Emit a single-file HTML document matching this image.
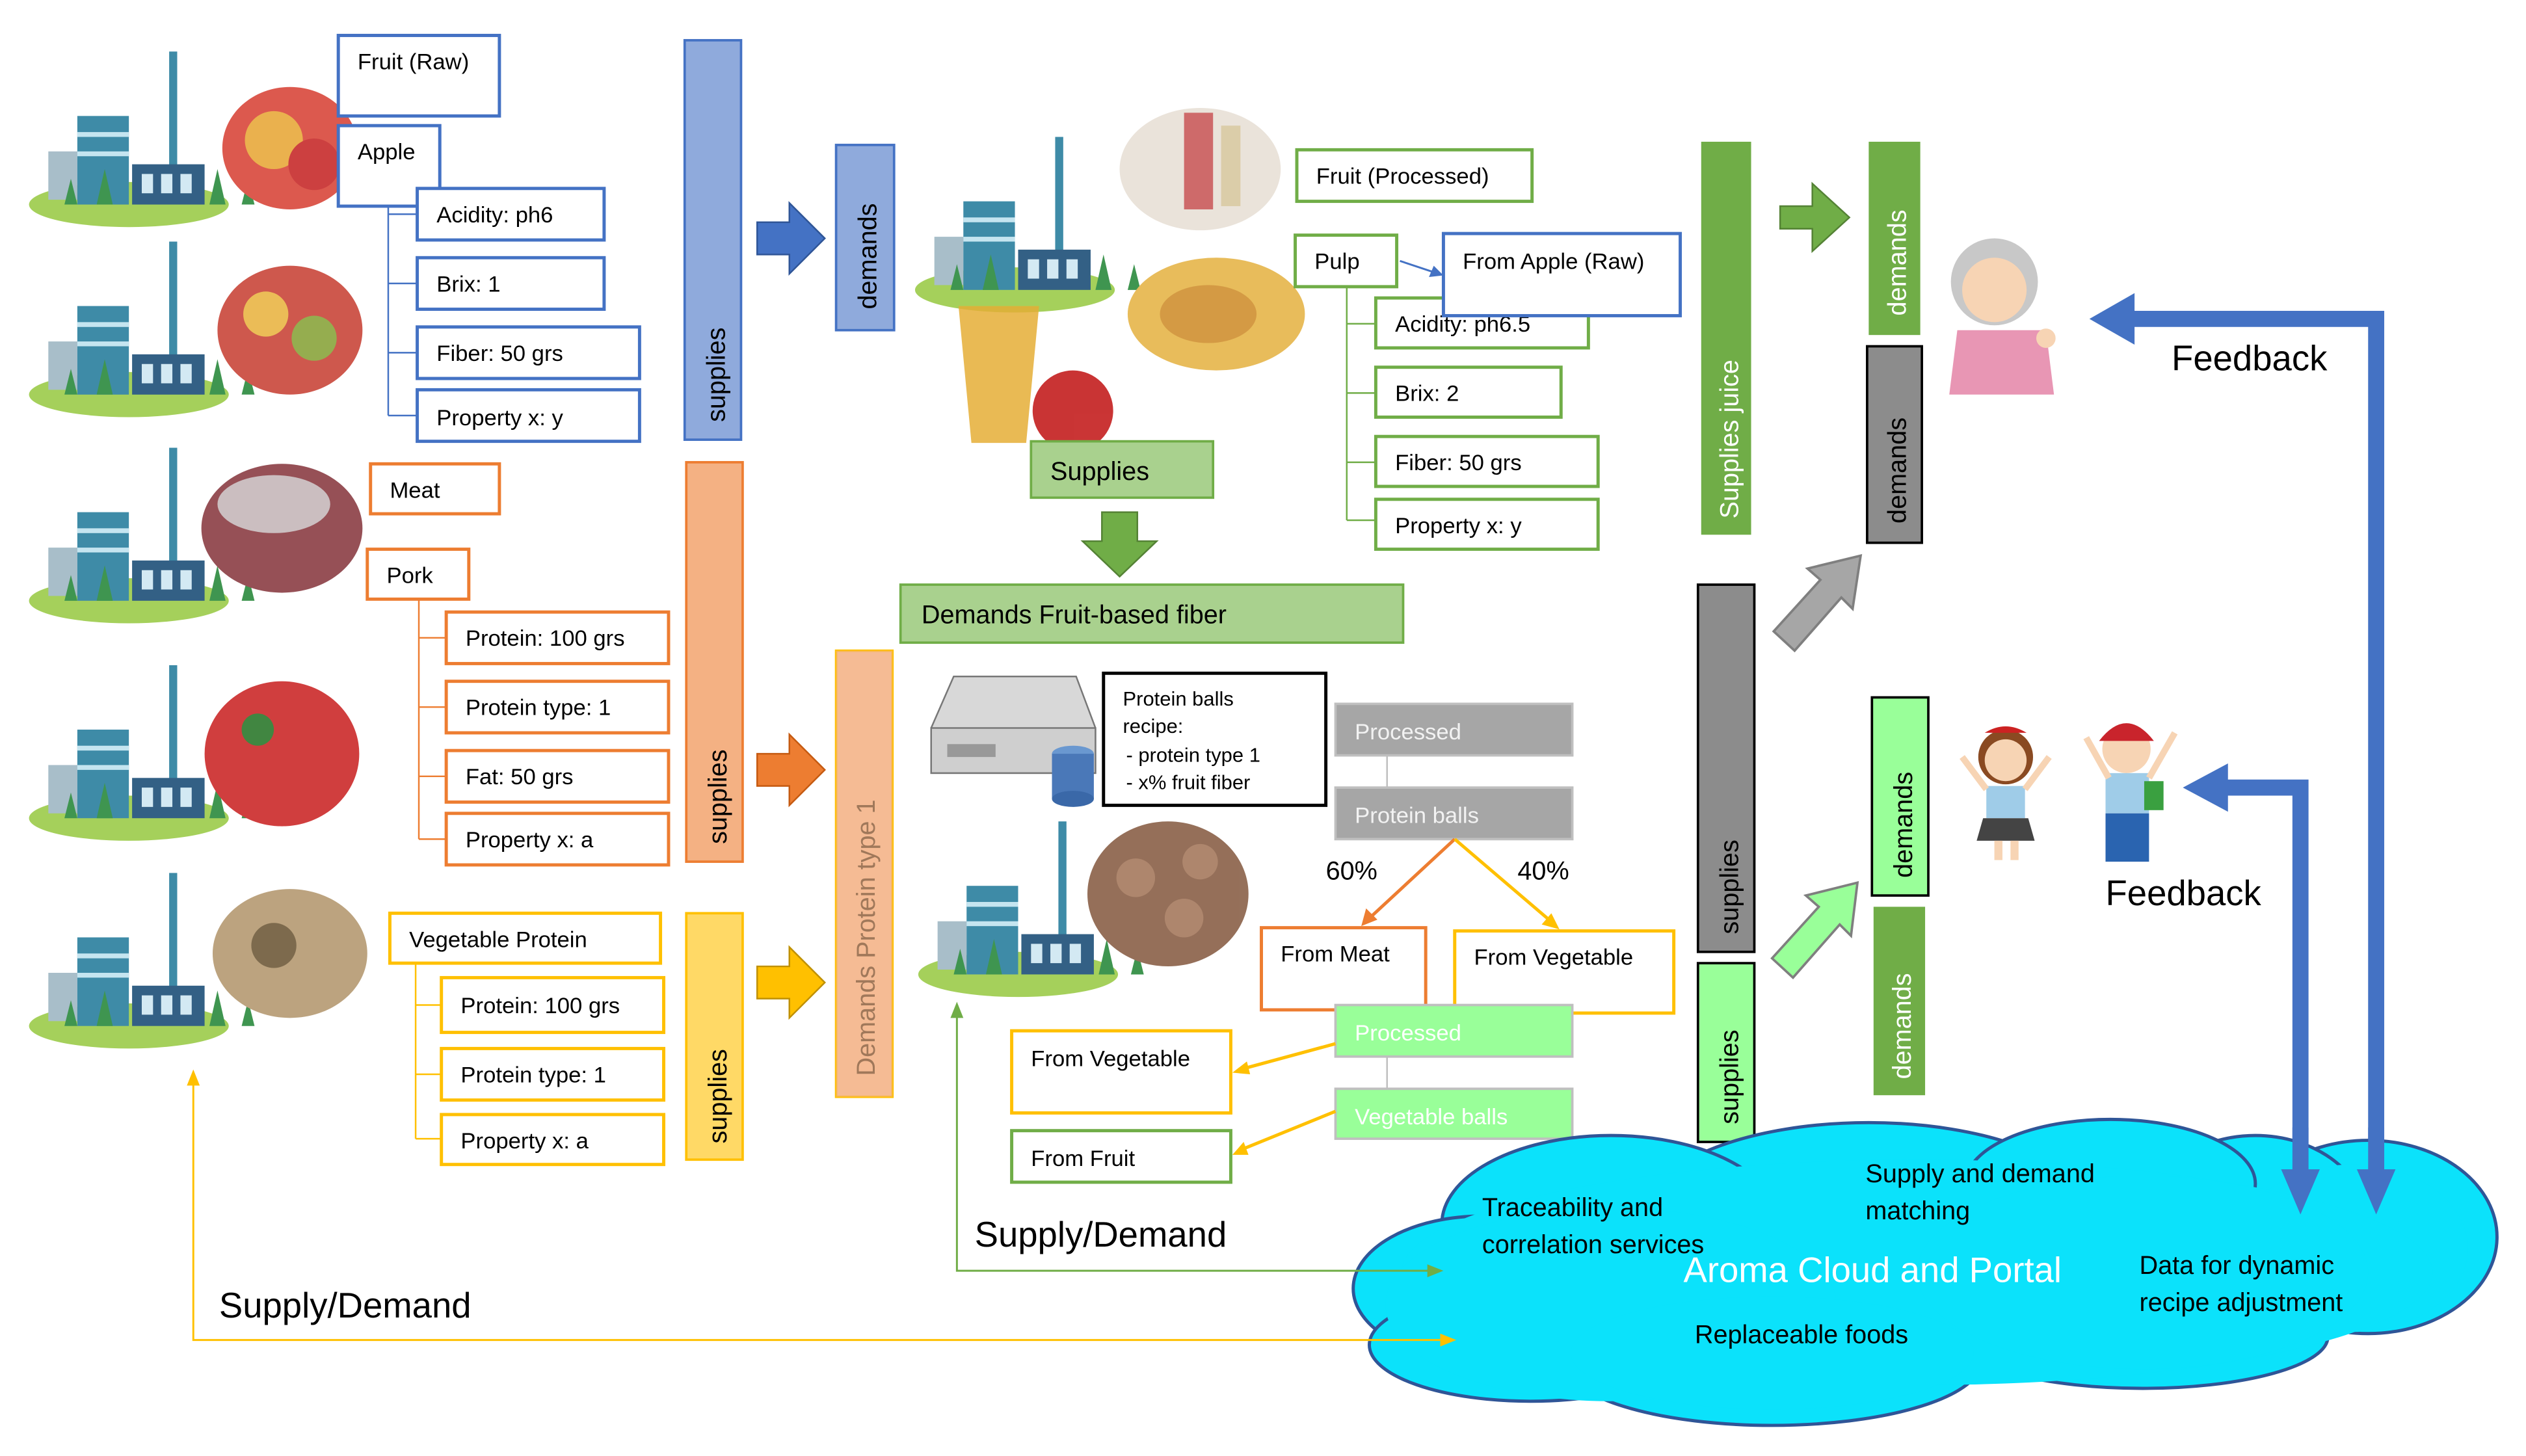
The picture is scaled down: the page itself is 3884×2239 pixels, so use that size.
<!DOCTYPE html>
<html><head><meta charset="utf-8"><style>
html,body{margin:0;padding:0;background:#fff}
svg{display:block}
text{font-family:"Liberation Sans",sans-serif}
</style></head><body>
<svg width="3884" height="2239" viewBox="0 0 1568 904" preserveAspectRatio="none" xmlns="http://www.w3.org/2000/svg">
<defs>
<g id="fac">
 <ellipse cx="60" cy="95" rx="62" ry="14" fill="#9ccc4a"/>
 <rect x="10" y="62" width="18" height="30" fill="#9fb8c4"/>
 <rect x="28" y="40" width="32" height="55" fill="#2a7f9e"/>
 <rect x="28" y="50" width="32" height="3" fill="#bfe3ef"/>
 <rect x="28" y="62" width="32" height="3" fill="#bfe3ef"/>
 <rect x="85" y="0" width="5" height="80" fill="#2a7f9e"/>
 <rect x="62" y="70" width="45" height="25" fill="#1d4f78"/>
 <rect x="68" y="76" width="7" height="12" fill="#cfe7f2"/><rect x="80" y="76" width="7" height="12" fill="#cfe7f2"/><rect x="92" y="76" width="7" height="12" fill="#cfe7f2"/>
 <path d="M40 95l5-22 5 22zM110 95l5-22 5 22zM20 95l4-16 4 16zM130 95l4-16 4 16z" fill="#2b8a3e"/>
</g>
</defs>
<rect width="1568" height="904" fill="#fff"/>

<!-- left factories -->
<g opacity="0.9">
<g transform="translate(20,32)"><use href="#fac"/><ellipse cx="160" cy="60" rx="42" ry="38" fill="#d9483b"/><circle cx="150" cy="55" r="18" fill="#e8a93b"/><circle cx="175" cy="70" r="16" fill="#c72c2c"/></g>
<g transform="translate(20,150)"><use href="#fac"/><ellipse cx="160" cy="55" rx="45" ry="40" fill="#c9473a"/><circle cx="145" cy="45" r="14" fill="#e9b545"/><circle cx="175" cy="60" r="14" fill="#8aa53d"/></g>
<g transform="translate(20,278)"><use href="#fac"/><ellipse cx="155" cy="50" rx="50" ry="40" fill="#8b3e44"/><ellipse cx="150" cy="35" rx="35" ry="18" fill="#c6b8ba"/></g>
<g transform="translate(20,413)"><use href="#fac"/><ellipse cx="155" cy="55" rx="48" ry="45" fill="#cc2a2a"/><circle cx="140" cy="40" r="10" fill="#2d7a2d"/></g>
<g transform="translate(20,542)"><use href="#fac"/><ellipse cx="160" cy="50" rx="48" ry="40" fill="#b59a72"/><circle cx="150" cy="45" r="14" fill="#6f5a3a"/></g>
</g>

<!-- Blue tree -->
<g fill="#fff" stroke="#4472C4" stroke-width="2">
<rect x="210" y="22" width="100" height="50"/>
<rect x="210" y="78" width="63" height="50"/>
<rect x="259" y="117" width="116" height="32"/>
<rect x="259" y="160" width="116" height="32"/>
<rect x="259" y="203" width="138" height="32"/>
<rect x="259" y="242" width="138" height="32"/>
</g>
<path d="M241 128V258M241 133H259M241 176H259M241 219H259M241 258H259" stroke="#4472C4" stroke-width="1" fill="none"/>
<g font-size="14" fill="#000">
<text x="222" y="43">Fruit (Raw)</text><text x="222" y="99">Apple</text>
<text x="271" y="138">Acidity: ph6</text><text x="271" y="181">Brix: 1</text>
<text x="271" y="224">Fiber: 50 grs</text><text x="271" y="264">Property x: y</text>
</g>

<!-- Orange tree -->
<g fill="#fff" stroke="#ED7D31" stroke-width="2">
<rect x="230" y="288" width="80" height="31"/>
<rect x="228" y="341" width="63" height="31"/>
<rect x="277" y="380" width="138" height="32"/>
<rect x="277" y="423" width="138" height="32"/>
<rect x="277" y="466" width="138" height="32"/>
<rect x="277" y="505" width="138" height="32"/>
</g>
<path d="M260 372V521M260 396H277M260 439H277M260 482H277M260 521H277" stroke="#ED7D31" stroke-width="1" fill="none"/>
<g font-size="14" fill="#000">
<text x="242" y="309">Meat</text><text x="240" y="362">Pork</text>
<text x="289" y="401">Protein: 100 grs</text><text x="289" y="444">Protein type: 1</text>
<text x="289" y="487">Fat: 50 grs</text><text x="289" y="526">Property x: a</text>
</g>

<!-- Yellow tree -->
<g fill="#fff" stroke="#FFC000" stroke-width="2">
<rect x="242" y="567" width="168" height="31"/>
<rect x="274" y="607" width="138" height="34"/>
<rect x="274" y="651" width="138" height="32"/>
<rect x="274" y="692" width="138" height="31"/>
</g>
<path d="M258 598V707M258 624H274M258 667H274M258 707H274" stroke="#FFC000" stroke-width="1" fill="none"/>
<g font-size="14" fill="#000">
<text x="254" y="588">Vegetable Protein</text><text x="286" y="629">Protein: 100 grs</text>
<text x="286" y="672">Protein type: 1</text><text x="286" y="713">Property x: a</text>
</g>

<!-- vertical bars left -->
<rect x="425" y="25" width="35" height="248" fill="#8FAADC" stroke="#4472C4" stroke-width="1.5"/>
<text transform="translate(450,262) rotate(-90)" font-size="16">supplies</text>
<rect x="519" y="90" width="36" height="115" fill="#8FAADC" stroke="#4472C4" stroke-width="1.5"/>
<text transform="translate(544,192) rotate(-90)" font-size="16">demands</text>
<path d="M470 138H490V126L512 148L490 170V158H470Z" fill="#4472C4" stroke="#2F5597"/>
<rect x="426" y="287" width="35" height="248" fill="#F4B183" stroke="#ED7D31" stroke-width="1.5"/>
<text transform="translate(451,524) rotate(-90)" font-size="16">supplies</text>
<path d="M470 468H490V456L512 478L490 500V488H470Z" fill="#ED7D31" stroke="#C55A11"/>
<rect x="519" y="404" width="35" height="277" fill="#F8CBAD" stroke="#FFC000" stroke-width="1.5"/>
<rect x="519" y="404" width="35" height="277" fill="#F4B183" opacity="0.6"/>
<text transform="translate(543,668) rotate(-90)" font-size="16" fill="#a0785a">Demands Protein type 1</text>
<rect x="426" y="567" width="35" height="153" fill="#FFD966" stroke="#FFC000" stroke-width="1.5"/>
<text transform="translate(451,710) rotate(-90)" font-size="16">supplies</text>
<path d="M470 600H490V588L512 610L490 632V620H470Z" fill="#FFC000" stroke="#BF9000"/>

<!-- middle top factory + products -->
<g opacity="0.9">
<g transform="translate(570,85)"><use href="#fac"/></g>
<ellipse cx="745" cy="105" rx="50" ry="38" fill="#e8e0d6"/>
<rect x="735" y="70" width="18" height="60" fill="#c95a5a"/><rect x="758" y="78" width="12" height="50" fill="#d8c8a0"/>
<ellipse cx="755" cy="195" rx="55" ry="35" fill="#e6b54a"/><ellipse cx="750" cy="195" rx="30" ry="18" fill="#d09030"/>
<path d="M595 190h50l-8 85h-34z" fill="#e2a420" opacity="0.85"/>
<circle cx="666" cy="255" r="25" fill="#c41f1f"/>
</g>
<rect x="640" y="274" width="113" height="35" fill="#A9D18E" stroke="#70AD47" stroke-width="1.5"/>
<text x="652" y="298" font-size="16">Supplies</text>
<path d="M684 318H706V336H718L695 358L672 336H684Z" fill="#70AD47" stroke="#548235"/>
<rect x="559" y="363" width="312" height="36" fill="#A9D18E" stroke="#70AD47" stroke-width="1.5"/>
<text x="572" y="387" font-size="16">Demands Fruit-based fiber</text>

<!-- processed fruit tree -->
<g fill="#fff" stroke="#70AD47" stroke-width="2">
<rect x="805" y="93" width="146" height="32"/>
<rect x="804" y="146" width="63" height="32"/>
<rect x="854" y="185" width="132" height="31"/>
<rect x="854" y="228" width="115" height="31"/>
<rect x="854" y="271" width="138" height="31"/>
<rect x="854" y="310" width="138" height="31"/>
</g>
<path d="M836 178V323M836 201H854M836 244H854M836 287H854M836 323H854" stroke="#70AD47" stroke-width="1" fill="none"/>
<g font-size="14" fill="#000">
<text x="817" y="114">Fruit (Processed)</text><text x="816" y="167">Pulp</text>
<text x="866" y="206">Acidity: ph6.5</text><text x="866" y="249">Brix: 2</text>
<text x="866" y="292">Fiber: 50 grs</text><text x="866" y="331">Property x: y</text>
</g>
<rect x="896" y="145" width="147" height="51" fill="#fff" stroke="#4472C4" stroke-width="2"/>
<text x="908" y="167" font-size="14">From Apple (Raw)</text>
<path d="M869 162L893 170" stroke="#4472C4" stroke-width="1.2"/><path d="M896 171l-9 1 3-7z" fill="#4472C4"/>

<!-- server -->
<path d="M592 420h76l12 32v28h-102v-28z" fill="#d8d8d8" stroke="#777"/>
<rect x="578" y="452" width="102" height="28" fill="#cfcfcf" stroke="#777"/>
<rect x="588" y="462" width="30" height="8" fill="#999"/>
<ellipse cx="666" cy="468" rx="13" ry="5" fill="#6a98d0"/><rect x="653" y="468" width="26" height="28" fill="#4a78b8"/><ellipse cx="666" cy="496" rx="13" ry="5" fill="#3a68a8"/>
<rect x="685" y="418" width="138" height="82" fill="#fff" stroke="#000" stroke-width="2"/>
<g font-size="12.5"><text x="697" y="438">Protein balls</text><text x="697" y="455">recipe:</text><text x="699" y="473">- protein type 1</text><text x="699" y="490">- x% fruit fiber</text></g>

<!-- grey processed -->
<rect x="829" y="437" width="147" height="32" fill="#A6A6A6" stroke="#BFBFBF" stroke-width="1.5"/>
<rect x="829" y="489" width="147" height="32" fill="#A6A6A6" stroke="#BFBFBF" stroke-width="1.5"/>
<path d="M861 469V489" stroke="#BFBFBF"/>
<g font-size="14" fill="#f2f2f2"><text x="841" y="459">Processed</text><text x="841" y="511">Protein balls</text></g>
<text x="823" y="546" font-size="16">60%</text><text x="942" y="546" font-size="16">40%</text>
<path d="M903 521L848 572" stroke="#ED7D31" stroke-width="2"/><path d="M845 575l3-11 7 7z" fill="#ED7D31"/>
<path d="M903 521L965 574" stroke="#FFC000" stroke-width="2"/><path d="M968 577l-11-3 6-7z" fill="#FFC000"/>
<rect x="783" y="576" width="102" height="51" fill="#fff" stroke="#ED7D31" stroke-width="2"/>
<text x="795" y="597" font-size="14">From Meat</text>
<rect x="903" y="578" width="136" height="51" fill="#fff" stroke="#FFC000" stroke-width="2"/>
<text x="915" y="599" font-size="14">From Vegetable</text>

<!-- meatball factory -->
<g opacity="0.9">
<g transform="translate(572,510)"><use href="#fac"/></g>
<ellipse cx="725" cy="555" rx="50" ry="45" fill="#8a6048"/><circle cx="705" cy="545" r="12" fill="#a67a5e"/><circle cx="735" cy="570" r="12" fill="#a67a5e"/><circle cx="745" cy="535" r="11" fill="#a67a5e"/>
</g>

<!-- green processed -->
<rect x="829" y="624" width="147" height="32" fill="#99FF99" stroke="#BFBFBF" stroke-width="1.5"/>
<rect x="829" y="676" width="147" height="31" fill="#99FF99" stroke="#BFBFBF" stroke-width="1.5"/>
<path d="M861 656V676" stroke="#BFBFBF"/>
<g font-size="14" fill="#fff"><text x="841" y="646">Processed</text><text x="841" y="698">Vegetable balls</text></g>
<rect x="628" y="640" width="136" height="51" fill="#fff" stroke="#FFC000" stroke-width="2"/>
<text x="640" y="662" font-size="14">From Vegetable</text>
<rect x="628" y="702" width="136" height="32" fill="#fff" stroke="#70AD47" stroke-width="2"/>
<text x="640" y="724" font-size="14">From Fruit</text>
<path d="M829 648L770 664" stroke="#FFC000" stroke-width="2"/><path d="M765 666l9-7 2 8z" fill="#FFC000"/>
<path d="M829 690L770 714" stroke="#FFC000" stroke-width="2"/><path d="M765 717l7-8 3 8z" fill="#FFC000"/>

<text x="605" y="774" font-size="22">Supply/Demand</text>
<text x="136" y="818" font-size="22">Supply/Demand</text>

<!-- right bars -->
<rect x="1056" y="88" width="31" height="244" fill="#70AD47"/>
<text transform="translate(1079,322) rotate(-90)" font-size="16" fill="#fff">Supplies juice</text>
<path d="M1105 128H1125V114L1148 135L1125 156V142H1105Z" fill="#70AD47" stroke="#548235"/>
<rect x="1160" y="88" width="32" height="120" fill="#70AD47"/>
<text transform="translate(1183,196) rotate(-90)" font-size="16" fill="#fff">demands</text>
<rect x="1159" y="215" width="34" height="122" fill="#8c8c8c" stroke="#000" stroke-width="1.5"/>
<text transform="translate(1183,325) rotate(-90)" font-size="16">demands</text>
<rect x="1054" y="363" width="35" height="228" fill="#8c8c8c" stroke="#000" stroke-width="1.5"/>
<text transform="translate(1079,580) rotate(-90)" font-size="16">supplies</text>
<rect x="1054" y="598" width="35" height="111" fill="#99FF99" stroke="#000" stroke-width="1.5"/>
<text transform="translate(1079,698) rotate(-90)" font-size="16">supplies</text>
<path d="M1101 392L1130 360L1122 353L1155 345L1150 378L1143 371L1114 404Z" fill="#A6A6A6" stroke="#7f7f7f" stroke-width="1.5"/>
<path d="M1100 595L1129 563L1121 556L1153 548L1149 581L1142 574L1113 607Z" fill="#99FF99" stroke="#7f7f7f" stroke-width="1.5"/>
<rect x="1162" y="433" width="35" height="123" fill="#99FF99" stroke="#000" stroke-width="1.5"/>
<text transform="translate(1187,545) rotate(-90)" font-size="16">demands</text>
<rect x="1163" y="563" width="32" height="117" fill="#70AD47"/>
<text transform="translate(1186,670) rotate(-90)" font-size="16" fill="#fff">demands</text>

<!-- grandma -->
<path d="M1215 205h55l5 40h-65z" fill="#e896b4"/>
<circle cx="1238" cy="175" r="27" fill="#c8c8c8"/><circle cx="1238" cy="180" r="20" fill="#f7d4b4"/>
<circle cx="1270" cy="210" r="6" fill="#f7d4b4"/>
<!-- kids -->
<g><circle cx="1245" cy="470" r="17" fill="#8a4a22"/><circle cx="1245" cy="472" r="13" fill="#f7d4b4"/><path d="M1232 455q13-8 26 0" fill="#c22" /><rect x="1233" y="488" width="24" height="20" fill="#9fcce8"/><path d="M1231 508h28l4 14h-36z" fill="#444"/><rect x="1238" y="522" width="5" height="12" fill="#f7d4b4"/><rect x="1248" y="522" width="5" height="12" fill="#f7d4b4"/><path d="M1218 470l15 20M1272 470l-15 20" stroke="#f7d4b4" stroke-width="4"/></g>
<g><circle cx="1320" cy="465" r="15" fill="#f7d4b4"/><path d="M1303 460q17-22 34 0z" fill="#c9242c"/><rect x="1307" y="480" width="27" height="25" fill="#9fcce8"/><rect x="1307" y="505" width="27" height="30" fill="#2a64b0"/><path d="M1295 458l14 25M1350 455l-16 28" stroke="#f7d4b4" stroke-width="4"/><rect x="1331" y="485" width="12" height="18" fill="#3aa040"/></g>

<!-- feedback arrows -->
<path d="M1475 728V198H1320" stroke="#4472C4" stroke-width="10" fill="none"/>
<path d="M1297 198l28-16v32z" fill="#4472C4"/>
<path d="M1428 728V489H1378" stroke="#4472C4" stroke-width="10" fill="none"/>
<path d="M1355 489l28-15v30z" fill="#4472C4"/>
<text x="1348" y="230" font-size="22">Feedback</text>
<text x="1307" y="562" font-size="22">Feedback</text>

<!-- cloud -->
<g fill="#0BE2FB" stroke="#2F5597" stroke-width="2">
<ellipse cx="1470" cy="768" rx="80" ry="60"/>
<ellipse cx="1400" cy="760" rx="70" ry="55"/>
<ellipse cx="1160" cy="755" rx="140" ry="58"/>
<ellipse cx="1310" cy="735" rx="90" ry="40"/>
<ellipse cx="1000" cy="760" rx="105" ry="55"/>
<ellipse cx="920" cy="800" rx="80" ry="45"/>
<ellipse cx="950" cy="835" rx="100" ry="35"/>
<ellipse cx="1100" cy="845" rx="130" ry="40"/>
<ellipse cx="1330" cy="830" rx="115" ry="32"/>
</g>
<g fill="#0BE2FB">
<ellipse cx="1460" cy="775" rx="72" ry="52"/>
<ellipse cx="1190" cy="790" rx="320" ry="70"/>
<ellipse cx="1000" cy="810" rx="140" ry="60"/>
<ellipse cx="1330" cy="790" rx="140" ry="60"/>
<ellipse cx="1100" cy="840" rx="125" ry="35"/>
</g>
<path d="M1475 700V735" stroke="#4472C4" stroke-width="10"/>
<path d="M1428 700V735" stroke="#4472C4" stroke-width="10"/>
<path d="M1463 726h24l-12 28z M1416 726h24l-12 28z" fill="#4472C4"/>

<!-- thin lines -->
<path d="M594 630V789H890" stroke="#70AD47" stroke-width="1.2" fill="none"/>
<path d="M594 622l-4 10h8z M896 789l-10-4v8z" fill="#70AD47"/>
<path d="M120 672V832H898" stroke="#FFC000" stroke-width="1.2" fill="none"/>
<path d="M120 664l-4 10h8z M904 832l-10-4v8z" fill="#FFC000"/>

<g font-size="16" fill="#000">
<text x="920" y="755">Traceability and</text><text x="920" y="778">correlation services</text>
<text x="1158" y="734">Supply and demand</text><text x="1158" y="757">matching</text>
<text x="1328" y="791">Data for dynamic</text><text x="1328" y="814">recipe adjustment</text>
<text x="1052" y="834">Replaceable foods</text>
</g>
<text x="1045" y="796" font-size="22" fill="#fff">Aroma Cloud and Portal</text>
</svg>
</body></html>
